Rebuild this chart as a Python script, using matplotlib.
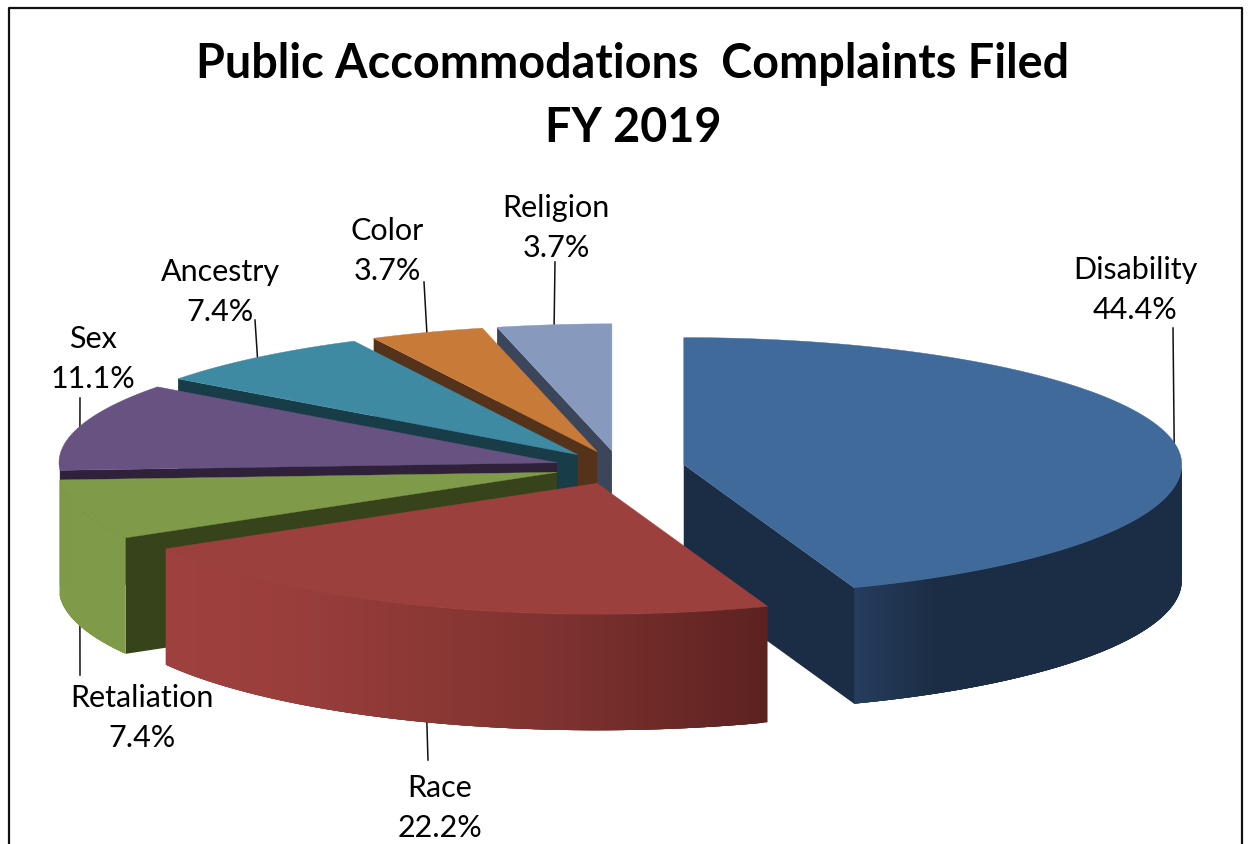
import numpy as np
import matplotlib
matplotlib.use("Agg")
import matplotlib.pyplot as plt
from matplotlib.colors import to_rgb

# order is clockwise from 12 o'clock
categorias = ["Disability", "Race", "Retaliation", "Sex", "Ancestry", "Color", "Religion"]
porcentajes = [44.4, 22.2, 7.4, 11.1, 7.4, 3.7, 3.7]

color_cara = ["#406a9a", "#9c403e", "#7f9a48", "#685282", "#3f8aa3", "#c87a38", "#879abd"]
color_corte = ["#1a2d44", "#5c2220", "#37431b", "#2e2139", "#193c49", "#54331a", "#3b465a"]
# wall colour from left to right: (fraction, colour)
color_pared = [
    [(0, "#263d5e"), (0.25, "#1a2d44"), (1, "#1a2d44")],
    [(0, "#9e403e"), (0.2, "#9a3e3c"), (0.65, "#7e322f"), (1, "#5c2220")],
    [(0, "#7f9a48"), (1, "#7f9a48")],
    [(0, "#685282"), (1, "#685282")],
    [(0, "#3f8aa3"), (1, "#3f8aa3")],
    [(0, "#c87a38"), (1, "#c87a38")],
    [(0, "#879abd"), (1, "#879abd")],
]

# where the label goes and where its leader ends
pos_etiqueta = [(1135, 290), (440, 808), (142, 718), (93, 359), (220, 292), (387, 251), (556, 228)]
fin_guia = [(1173, 328), (428, 760), (80, 675), (80, 398), (255, 320), (424, 282), (555, 262)]

cx, cy = 619.5, 467.5
rx = 498
ry_atras, ry_frente = 127, 131  # front half looks a bit bigger, perspective
explosion = 0.131
fondo = 116


def rim(c, t):
    cos_t = np.cos(t)
    return c[0] + rx * np.sin(t), c[1] - np.where(cos_t > 0, ry_atras, ry_frente) * cos_t


def color_en(stops, f):
    fr = [s[0] for s in stops]
    rgb = np.array([to_rgb(s[1]) for s in stops])
    return tuple(np.interp(f, fr, rgb[:, k]) for k in range(3))


fig = plt.figure(figsize=(12.5, 8.44), dpi=100)
ax = fig.add_axes([0, 0, 1, 1])
ax.set_xlim(0, 1250)
ax.set_ylim(844, 0)
ax.axis("off")

# frame, open at the bottom
ax.plot([8.5, 8.5, 1241.5, 1241.5], [844, 7.5, 7.5, 844], color="#111111", lw=1.6, zorder=1)

fracciones = np.array(porcentajes) / sum(porcentajes)
bordes = np.concatenate([[0], np.cumsum(fracciones)]) * 2 * np.pi

for i in range(len(categorias)):
    ini, fin = bordes[i], bordes[i + 1]
    medio = (ini + fin) / 2
    c = (cx + explosion * rx * np.sin(medio), cy - explosion * 128 * np.cos(medio))

    # Disability goes first, then the rest from back to front
    z = 3 if i == 0 else 3 + (len(categorias) - i)

    # leader behind the slice
    x0, y0 = rim(c, medio)
    if np.cos(medio) < 0:
        y0 += fondo
    ax.plot([x0, fin_guia[i][0]], [y0, fin_guia[i][1]], color="#111111", lw=1.1, zorder=2)

    # cut face at the start of the slice
    if ini > 0 and np.sin(ini) < 0:
        xr, yr = rim(c, ini)
        ax.fill([c[0], xr, xr, c[0]], [c[1], yr, yr + fondo, c[1] + fondo],
                color=color_corte[i], lw=0, zorder=z)
    # cut face at the end of the slice, only for the one on the right
    if i == 0:
        xr, yr = rim(c, fin)
        ax.fill([c[0], xr, xr, c[0]], [c[1], yr, yr + fondo, c[1] + fondo],
                color=color_corte[i], lw=0, zorder=z)

    # outer wall, the front half only. Strips overlap so no seams show
    a0, a1 = max(ini, np.pi / 2), min(fin, 3 * np.pi / 2)
    if a1 - a0 > 0.1:
        ts = np.linspace(a0, a1, 160)
        xs, ys = rim(c, ts)
        xmin, xmax = xs.min(), xs.max()
        for j in range(len(ts) - 1):
            k = min(j + 4, len(ts) - 1)
            f = ((xs[j] + xs[j + 1]) / 2 - xmin) / (xmax - xmin)
            col = color_en(color_pared[i], f)
            tramo_x = xs[j:k + 1]
            tramo_y = ys[j:k + 1]
            ax.fill(np.r_[tramo_x, tramo_x[::-1]], np.r_[tramo_y, tramo_y[::-1] + fondo],
                    color=col, lw=0, zorder=z)

    # top face
    ts = np.linspace(ini, fin, 200)
    xs, ys = rim(c, ts)
    ax.fill(np.r_[c[0], xs], np.r_[c[1], ys], color=color_cara[i], lw=0.3, zorder=z + 0.5)

    ax.text(pos_etiqueta[i][0], pos_etiqueta[i][1],
            f"{categorias[i]}\n{porcentajes[i]:.1f}%",
            ha="center", va="center", fontsize=22, family="Lato", color="black",
            linespacing=1.53, zorder=20)

ax.text(633, 96, "Public Accommodations  Complaints Filed\nFY 2019", ha="center", va="center",
        fontsize=33.7, family="Lato", weight="bold", color="black", linespacing=1.55, zorder=20)

plt.savefig("out.png", dpi=100)
